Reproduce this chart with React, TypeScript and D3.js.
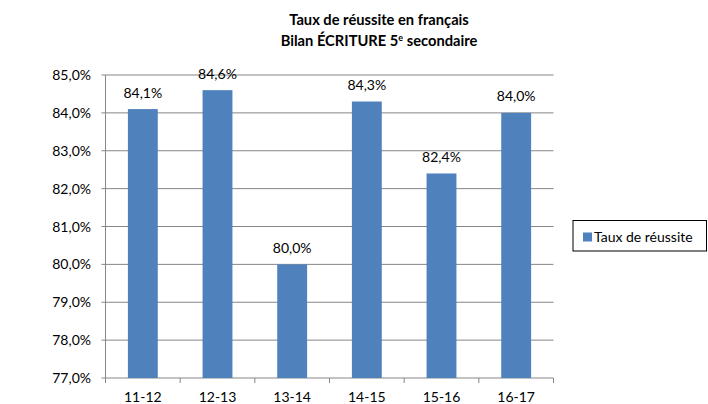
import React from "react";
import * as d3 from "d3";

const categories = ["11-12", "12-13", "13-14", "14-15", "15-16", "16-17"];
const values = [84.1, 84.6, 80.0, 84.3, 82.4, 84.0];
const yTicks = [77, 78, 79, 80, 81, 82, 83, 84, 85];
const titleLines = ["Taux de réussite en français", "Bilan ÉCRITURE 5"];
const seriesName = "Taux de réussite";

const W = 708, H = 404;
const plot = { left: 105.5, right: 553.5, top: 75, bottom: 378 };
const FONT = "Lato, 'Open Sans', sans-serif";
const fmt = (v: number) => v.toFixed(1).replace(".", ",") + "%";
const FS = 14;

export default function App() {
  const x = d3.scaleBand<string>().domain(categories).range([plot.left, plot.right]).paddingInner(0.6).paddingOuter(0.3);
  const y = d3.scaleLinear().domain([77, 85]).range([plot.bottom, plot.top]);
  const step = x.step();
  return (
    <svg width={W} height={H} style={{ position: "absolute", left: 0, top: 0, background: "#fff" }} fontFamily={FONT}>
      <text x={379} y={25} textAnchor="middle" fontSize={14.7} fontWeight="bold" fill="#000">{titleLines[0]}</text>
      <text x={379} y={46} textAnchor="middle" fontSize={14.7} fontWeight="bold" fill="#000">
        {titleLines[1]}<tspan dy={-5} fontSize={9}>e</tspan><tspan dy={5}> secondaire</tspan>
      </text>
      {yTicks.map((t) => (
        <g key={t}>
          <line x1={plot.left - 4} x2={plot.right} y1={y(t)} y2={y(t)} stroke="#868686" strokeWidth={1} />
          <text x={91} y={y(t) + 5} textAnchor="end" fontSize={FS} fill="#000">{fmt(t)}</text>
        </g>
      ))}
      <line x1={plot.left} x2={plot.left} y1={plot.top} y2={plot.bottom} stroke="#868686" />
      {categories.map((c, i) => (
        <line key={"t" + i} x1={plot.left + step * (i + 1)} x2={plot.left + step * (i + 1)} y1={plot.bottom} y2={plot.bottom + 5} stroke="#868686" />
      ))}
      <line x1={plot.left} x2={plot.left} y1={plot.bottom} y2={plot.bottom + 5} stroke="#868686" />
      {categories.map((c, i) => (
        <g key={c}>
          <rect x={x(c)!} y={y(values[i])} width={x.bandwidth()} height={y(77) - y(values[i])} fill="#4F81BD" />
          <text x={x(c)! + x.bandwidth() / 2} y={y(values[i]) - 11.5} textAnchor="middle" fontSize={FS} fill="#000">{fmt(values[i])}</text>
          <text x={x(c)! + x.bandwidth() / 2} y={401.5} textAnchor="middle" fontSize={FS} fill="#000">{c}</text>
        </g>
      ))}
      <rect x={573} y={220.5} width={133.5} height={30.5} fill="#fff" stroke="#000" />
      <rect x={583} y={232.5} width={9} height={9} fill="#4F81BD" />
      <text x={594} y={241.7} fontSize={FS} fill="#000">{seriesName}</text>
    </svg>
  );
}
